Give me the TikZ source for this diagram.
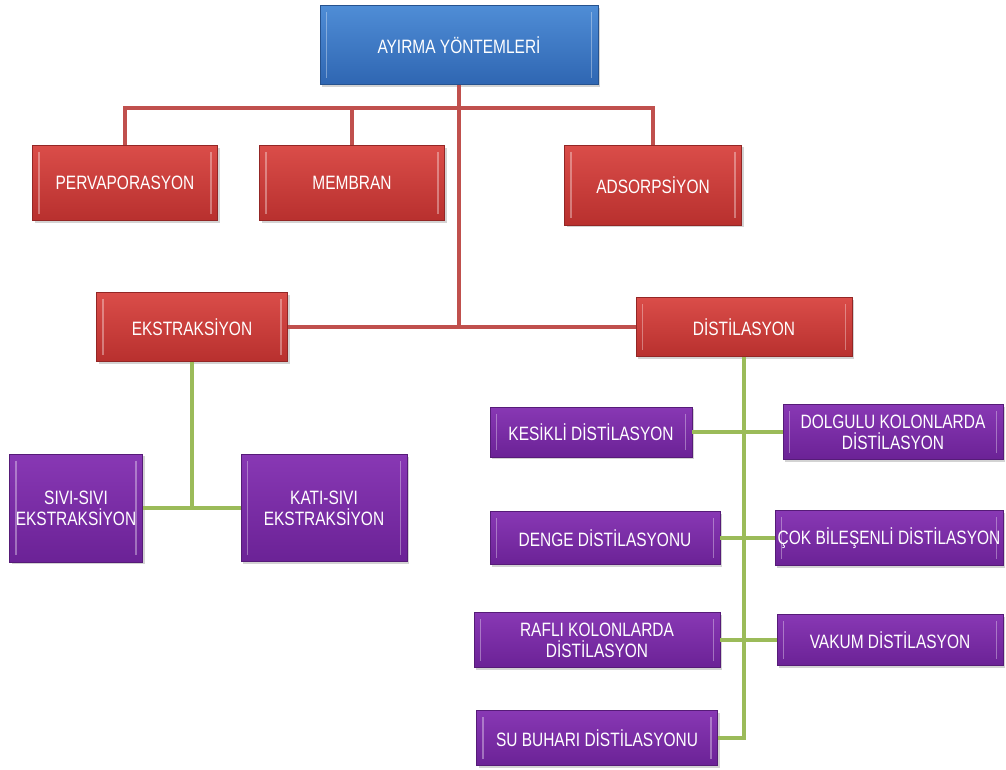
\documentclass[tikz,border=0pt]{standalone}
\usepackage{fontspec}
\setmainfont[FakeStretch=0.8]{Liberation Sans}
\usepackage{xcolor}
\usepackage{tikz}
\usetikzlibrary{shadows}

\definecolor{bluetop}{HTML}{4F8DD6}
\definecolor{bluebot}{HTML}{2F66B2}
\definecolor{redtop}{HTML}{DA4D49}
\definecolor{redbot}{HTML}{B8302E}
\definecolor{purtop}{HTML}{8838B4}
\definecolor{purbot}{HTML}{6B2296}
\definecolor{redline}{HTML}{C0504D}
\definecolor{greenline}{HTML}{9BBB59}

\tikzset{
  bw/.style={minimum width=#1*0.75pt},
  bh/.style={minimum height=#1*0.75pt},
  basebox/.style={inner sep=0pt,align=center,text=white,font=\fontsize{14.5}{15.5}\selectfont,
    drop shadow={shadow xshift=1.5pt,shadow yshift=-1.5pt,opacity=0.35},
    path picture={
      \draw[white,opacity=0.35,line width=1.2pt]
        ([xshift=5pt,yshift=-5pt]path picture bounding box.north west) --
        ([xshift=5pt,yshift=5pt]path picture bounding box.south west);
      \draw[white,opacity=0.35,line width=1.2pt]
        ([xshift=-5pt,yshift=-5pt]path picture bounding box.north east) --
        ([xshift=-5pt,yshift=5pt]path picture bounding box.south east);}},
  bluebox/.style={basebox,top color=bluetop,bottom color=bluebot,draw=bluebot!80!black},
  redbox/.style={basebox,top color=redtop,bottom color=redbot,draw=redbot!80!black},
  purbox/.style={basebox,top color=purtop,bottom color=purbot,draw=purbot!80!black},
  redlink/.style={draw=redline,line width=2.4pt},
  greenlink/.style={draw=greenline,line width=2.4pt}
}

\begin{document}
\begin{tikzpicture}[x=0.75pt,y=-0.75pt]
  \useasboundingbox (0,0) rectangle (1006,769);

  % top level
  \node[bluebox,bw=278,bh=79] (top) at (459,45) {AYIRMA YÖNTEMLERİ};

  % red level
  \node[redbox,bw=185,bh=75] (perv) at (125,183) {PERVAPORASYON};
  \node[redbox,bw=185,bh=75] (memb) at (352,183) {MEMBRAN};
  \node[redbox,bw=177,bh=80] (adso) at (653,185) {ADSORPSİYON};
  \node[redbox,bw=191,bh=69] (ekst) at (192,327) {EKSTRAKSİYON};
  \node[redbox,bw=216,bh=59] (dist) at (744,327) {DİSTİLASYON};

  % extraction types
  \node[purbox,bw=133,bh=108] (sivi) at (76,508) {SIVI-SIVI\\EKSTRAKSİYON};
  \node[purbox,bw=166,bh=107] (kati) at (324,508) {KATI-SIVI\\EKSTRAKSİYON};

  % distillation types
  \node[purbox,bw=202,bh=50] (kesi) at (591,432) {KESİKLİ DİSTİLASYON};
  \node[purbox,bw=220,bh=55] (dolg) at (893,432) {DOLGULU KOLONLARDA\\DİSTİLASYON};
  \node[purbox,bw=230,bh=53] (deng) at (605,538) {DENGE DİSTİLASYONU};
  \node[purbox,bw=228,bh=55] (cokb) at (889,538) {ÇOK BİLEŞENLİ DİSTİLASYON};
  \node[purbox,bw=246,bh=55] (rafl) at (597,640) {RAFLI KOLONLARDA\\DİSTİLASYON};
  \node[purbox,bw=226,bh=51] (vaku) at (890,640) {VAKUM DİSTİLASYON};
  \node[purbox,bw=241,bh=55] (subu) at (597,738) {SU BUHARI DİSTİLASYONU};

  % red connectors
  \coordinate (bus) at (459,108);
  \coordinate (mid) at (459,327);
  \draw[redlink] (top.south) -- (mid);
  \draw[redlink] (perv.north) |- (bus) -| (adso.north);
  \draw[redlink] (memb.north) -- (memb.north |- bus);
  \draw[redlink] (ekst.east) -- (dist.west);

  % green connectors
  \coordinate (ej) at (ekst.south |- kati.west);
  \draw[greenlink] (ekst.south) -- (ej);
  \draw[greenlink] (sivi.east) -- (kati.west);
  \coordinate (dend) at (dist.south |- subu.east);
  \draw[greenlink] (dist.south) -- (dend) -- (subu.east);
  \draw[greenlink] (kesi.east) -- (dolg.west);
  \draw[greenlink] (deng.east) -- (cokb.west);
  \draw[greenlink] (rafl.east) -- (vaku.west);
\end{tikzpicture}
\end{document}
